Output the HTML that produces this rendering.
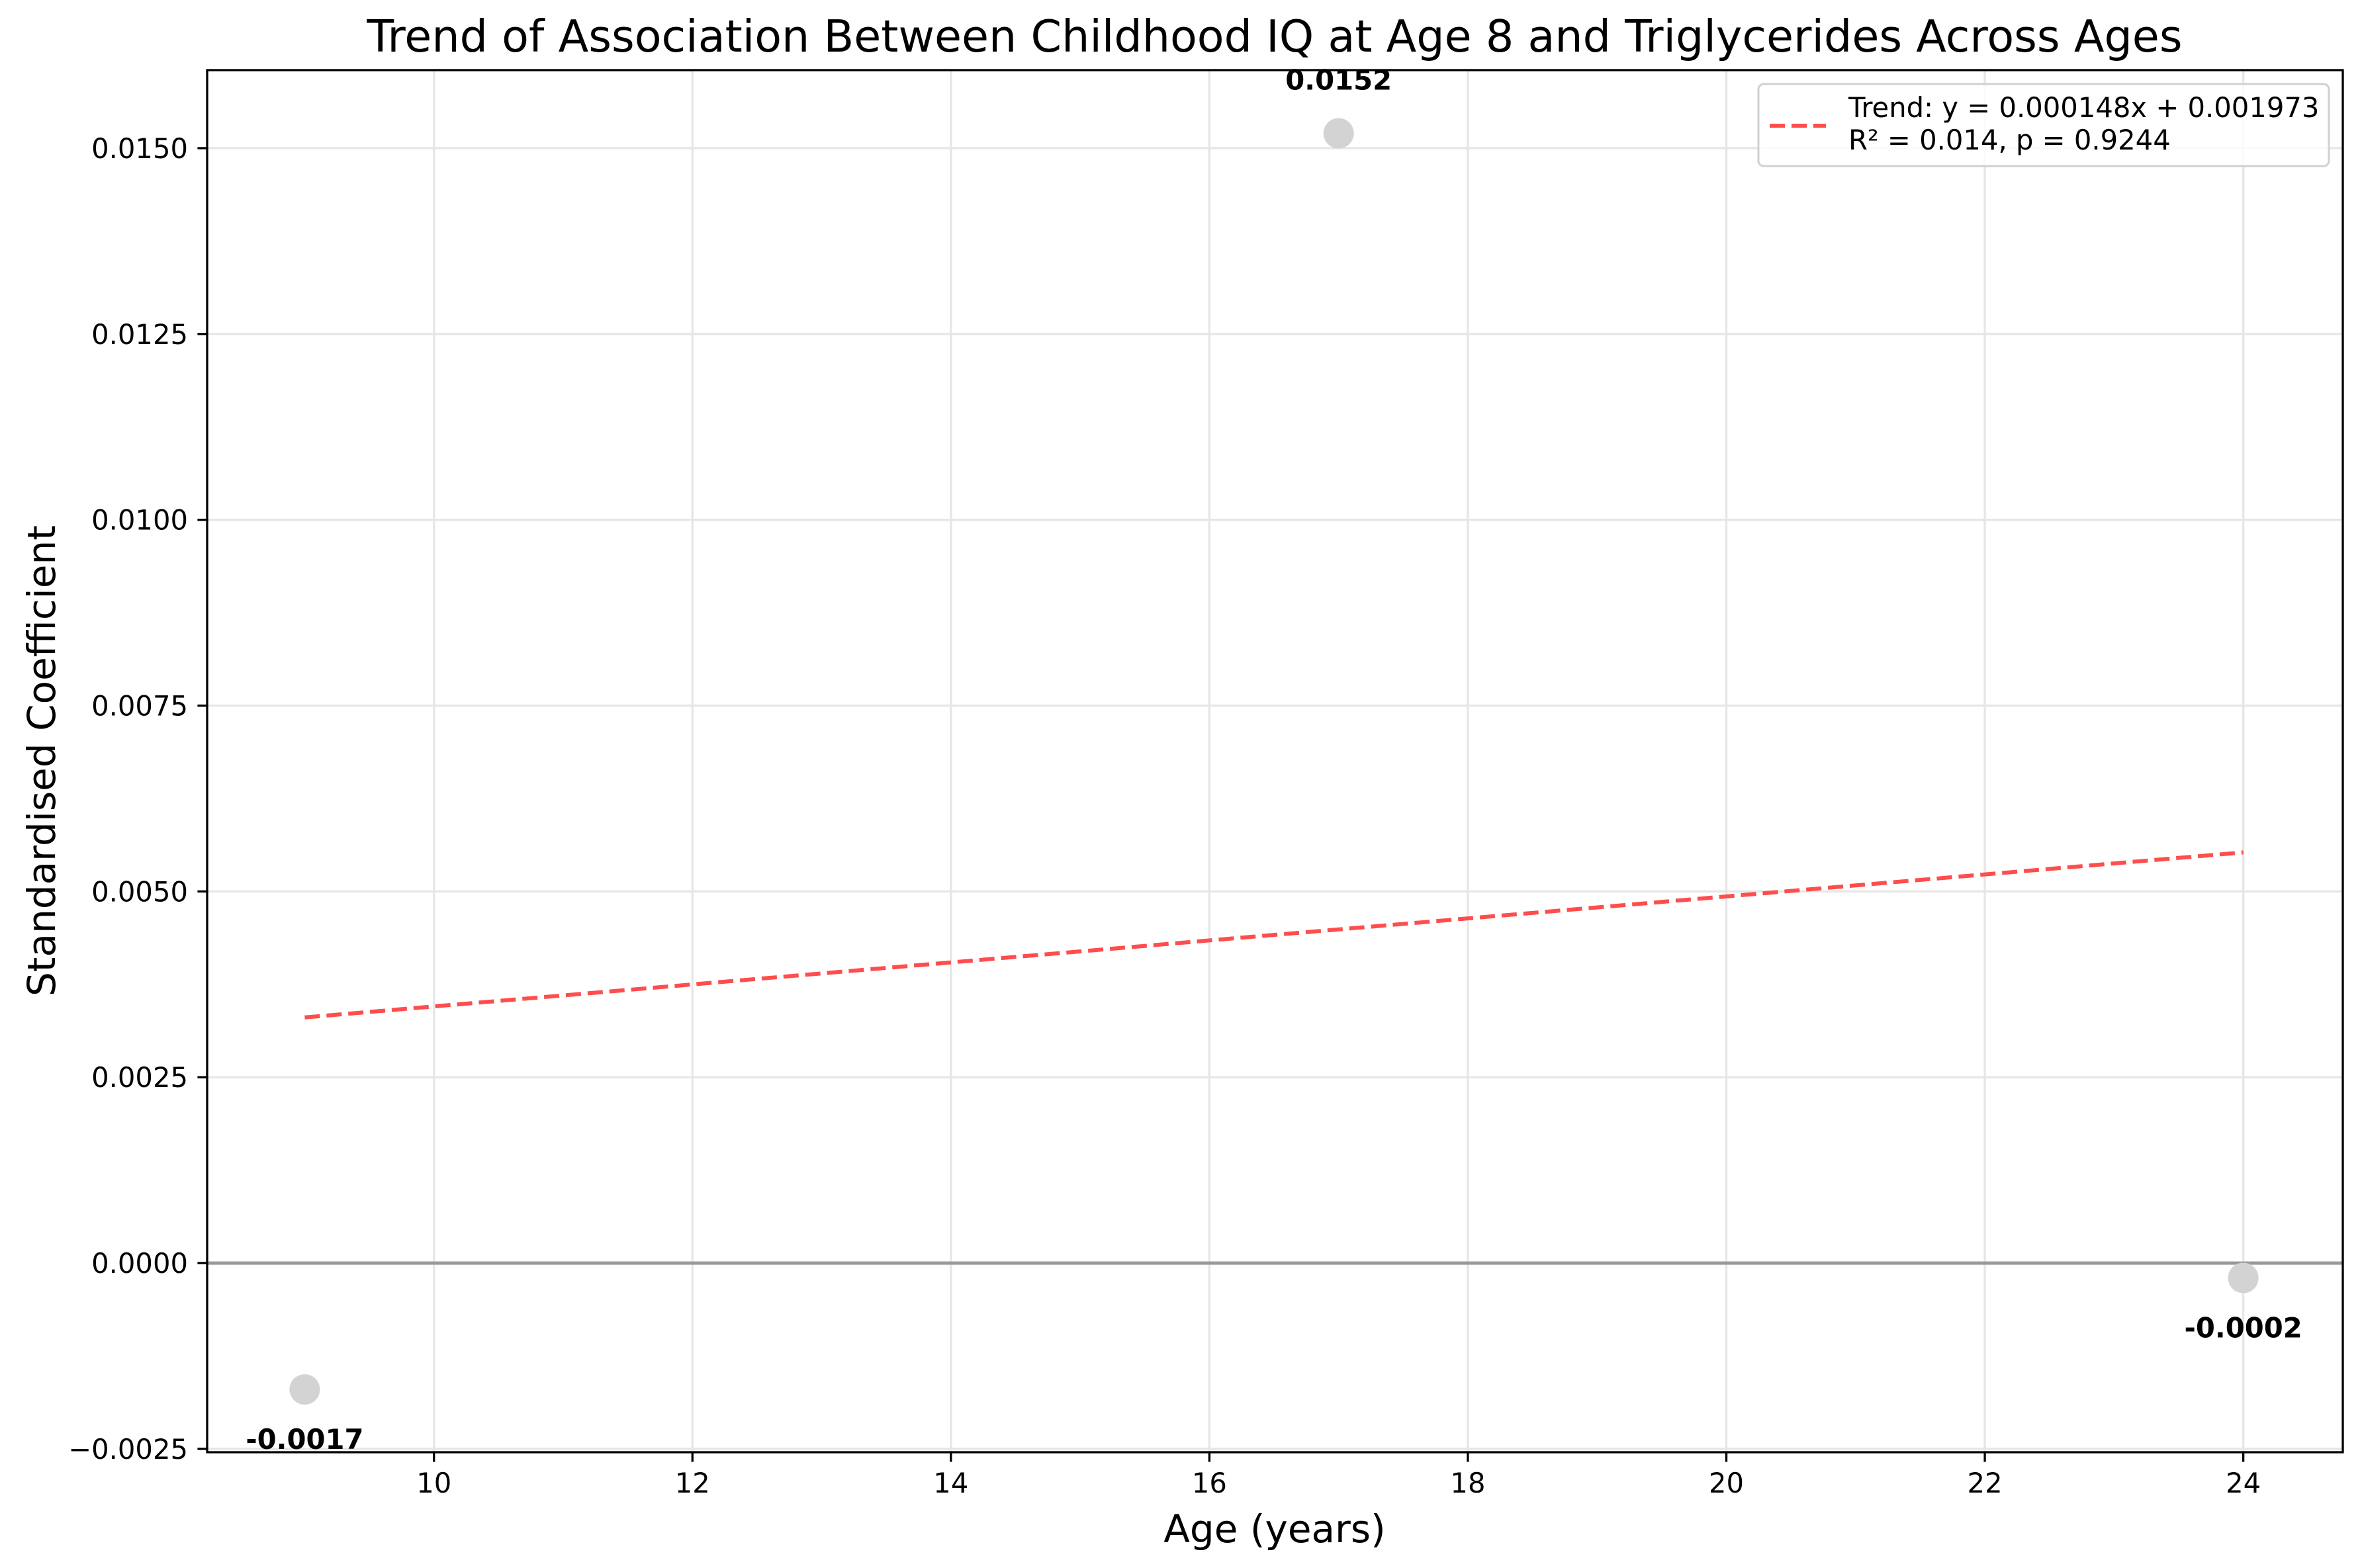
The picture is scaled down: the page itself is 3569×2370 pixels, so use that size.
<!DOCTYPE html>
<html><head><meta charset="utf-8"><style>html,body{margin:0;padding:0;background:#fff}svg{display:block}</style></head>
<body>
<svg id="chart" width="3569" height="2370" xmlns="http://www.w3.org/2000/svg" font-family="'DejaVu Sans','Liberation Sans',sans-serif">
<rect width="3569" height="2370" fill="#fff"/>
<g id="grid"></g>
<g id="marks"></g>
<g id="axes"></g>
<text x="1926" y="78" font-size="66.7" text-anchor="middle">Trend of Association Between Childhood IQ at Age 8 and Triglycerides Across Ages</text>
<text x="1926" y="2331" font-size="58" text-anchor="middle">Age (years)</text>
<text x="0" y="0" font-size="58" text-anchor="middle" transform="translate(83,1150) rotate(-90)">Standardised Coefficient</text>
<g>
<rect x="2657" y="127" width="862" height="124" rx="8" fill="#fff" fill-opacity="0.8" stroke="#d0d0d0" stroke-width="3"/>
<line x1="2674" y1="190" x2="2759" y2="190" stroke="#ff4d4d" stroke-width="6" stroke-dasharray="23,10"/>
<text x="2793" y="177" font-size="41.7">Trend: y = 0.000148x + 0.001973</text>
<text x="2793" y="226" font-size="41.7">R² = 0.014, p = 0.9244</text>
</g>
</svg>
<script>
const ages = [9, 17, 24];
const coefficients = [-0.0017, 0.0152, -0.0002];
const pointLabels = ["-0.0017", "0.0152", "-0.0002"];
const xTicks = [10, 12, 14, 16, 18, 20, 22, 24];
const yTicks = [-0.0025, 0, 0.0025, 0.005, 0.0075, 0.01, 0.0125, 0.015];
const yTickLabels = ["\u22120.0025", "0.0000", "0.0025", "0.0050", "0.0075", "0.0100", "0.0125", "0.0150"];
const trendSlope = 0.000148;
const trendIntercept = 0.001973;

const L=313, R=3540, T=106, B=2195;
const xMin=8.245, xMax=24.77, yMin=-0.002545, yMax=0.01605;
const xs=v=>L+(v-xMin)/(xMax-xMin)*(R-L);
const ys=v=>B-(v-yMin)/(yMax-yMin)*(B-T);
const NS='http://www.w3.org/2000/svg';
function mk(parent,tag,attrs,text){const e=document.createElementNS(NS,tag);for(const k in attrs)e.setAttribute(k,attrs[k]);if(text!=null)e.textContent=text;document.getElementById(parent).appendChild(e);return e;}

xTicks.forEach((t,i)=>{
  const g=mk('grid','line',{x1:xs(t),x2:xs(t),y1:T,y2:B,stroke:'#e6e6e6','stroke-width':3.3});
  
  
  const tk=mk('axes','line',{x1:xs(t),x2:xs(t),y1:B,y2:B+14.6,stroke:'#000','stroke-width':3.3});
  
  
  const lb=mk('axes','text',{x:xs(t),y:B+61,'font-size':41.7,'text-anchor':'middle'},String(t));
  
  
});
yTicks.forEach((t,i)=>{
  const g=mk('grid','line',{x1:L,x2:R,y1:ys(t),y2:ys(t),stroke:'#e6e6e6','stroke-width':3.3});
  
  
  const tk=mk('axes','line',{x1:L-14.6,x2:L,y1:ys(t),y2:ys(t),stroke:'#000','stroke-width':3.3});
  
  
  const lb=mk('axes','text',{x:L-29,y:ys(t)+15,'font-size':41.7,'text-anchor':'end'},yTickLabels[i]);
  
  
});
const zl=mk('marks','line',{x1:L,x2:R,y1:ys(0),y2:ys(0),stroke:'#999','stroke-width':5});


const x0=ages[0], x1=ages[ages.length-1];
const tl=mk('marks','line',{x1:xs(x0),y1:ys(trendSlope*x0+trendIntercept),x2:xs(x1),y2:ys(trendSlope*x1+trendIntercept),stroke:'#ff4d4d','stroke-width':6,'stroke-dasharray':'23,10'});


ages.forEach((a,i)=>{
  const c=mk('marks','circle',{cx:xs(a),cy:ys(coefficients[i]),r:23,fill:'#d3d3d3'});
  
  
  const off=coefficients[i]>=0?-66:90;
  const t=mk('marks','text',{x:xs(a),y:ys(coefficients[i])+off,'font-size':41.7,'font-weight':'bold','text-anchor':'middle'},pointLabels[i]);
  
  
});
const fr=mk('axes','rect',{x:L,y:T,width:R-L,height:B-T,fill:'none',stroke:'#000','stroke-width':3.3});


</script>
</body></html>
